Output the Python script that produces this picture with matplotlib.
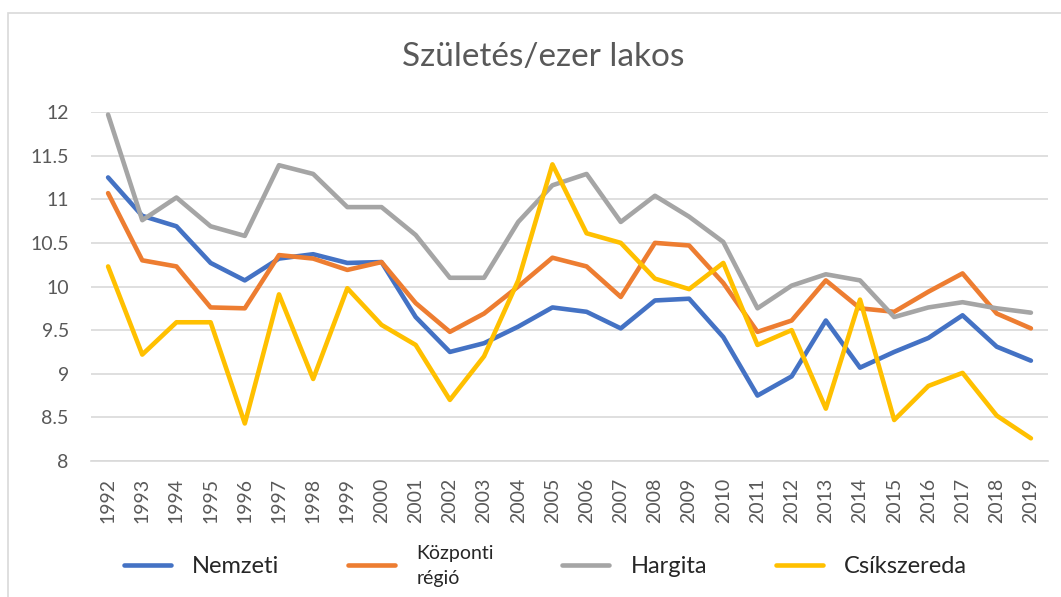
import matplotlib
matplotlib.use("Agg")
import matplotlib.pyplot as plt
from matplotlib.patches import Rectangle

plt.rcParams['font.family'] = ['Lato', 'DejaVu Sans']

years = [str(y) for y in range(1992, 2020)]

nemzeti = [11.25, 10.81, 10.69, 10.27, 10.07, 10.32, 10.37, 10.27, 10.28, 9.65,
           9.25, 9.35, 9.54, 9.76, 9.71, 9.52, 9.84, 9.86, 9.42, 8.75,
           8.97, 9.61, 9.07, 9.25, 9.41, 9.67, 9.31, 9.15]
kozponti = [11.07, 10.30, 10.23, 9.76, 9.75, 10.36, 10.32, 10.19, 10.28, 9.81,
            9.48, 9.69, 10.00, 10.33, 10.23, 9.88, 10.50, 10.47, 10.04, 9.48,
            9.61, 10.07, 9.75, 9.71, 9.94, 10.15, 9.69, 9.52]
hargita = [11.97, 10.76, 11.02, 10.69, 10.58, 11.39, 11.29, 10.91, 10.91, 10.59,
           10.10, 10.10, 10.74, 11.16, 11.29, 10.74, 11.04, 10.80, 10.51, 9.75,
           10.01, 10.14, 10.07, 9.65, 9.76, 9.82, 9.75, 9.70]
csikszereda = [10.23, 9.22, 9.59, 9.59, 8.43, 9.91, 8.94, 9.98, 9.56, 9.33,
               8.70, 9.20, 10.07, 11.40, 10.61, 10.50, 10.09, 9.97, 10.27, 9.33,
               9.50, 8.60, 9.85, 8.47, 8.86, 9.01, 8.52, 8.26]

series = [
    ("Nemzeti", nemzeti, "#4472C4"),
    ("Központi\nrégió", kozponti, "#ED7D31"),
    ("Hargita", hargita, "#A5A5A5"),
    ("Csíkszereda", csikszereda, "#FFC000"),
]

W, H = 1061, 597
fig = plt.figure(figsize=(W / 100, H / 100), dpi=100)
ax = fig.add_axes([91 / W, 1 - 461 / H, (1048 - 91) / W, (461 - 112) / H])

x = list(range(len(years)))
for name, vals, col in series:
    ax.plot(x, vals, color=col, lw=3.3, label=name,
            solid_capstyle='round', solid_joinstyle='round', clip_on=False)

ax.set_xlim(-0.5, len(years) - 0.5)
ax.set_ylim(8, 12)
ax.set_yticks([8, 8.5, 9, 9.5, 10, 10.5, 11, 11.5, 12])
ax.set_yticklabels(['8', '8.5', '9', '9.5', '10', '10.5', '11', '11.5', '12'])
ax.set_xticks(x)
ax.set_xticklabels(years, rotation=90)
ax.grid(axis='y', color='#D9D9D9', lw=1.2)
ax.set_axisbelow(True)
for s in ax.spines.values():
    s.set_visible(False)
ax.spines['bottom'].set_visible(True)
ax.spines['bottom'].set_color('#D9D9D9')
ax.spines['bottom'].set_linewidth(1.2)
ax.tick_params(axis='both', length=0, colors='#595959', labelsize=14)
ax.tick_params(axis='y', pad=16)
ax.tick_params(axis='x', pad=12)

fig.text(0.512, 1 - 57 / H, "Születés/ezer lakos", ha='center', va='center',
         fontsize=24, color='#595959')

leg = fig.legend(loc='center', bbox_to_anchor=(0.514, 1 - 566 / H), ncol=4,
                 frameon=False, fontsize=17, handlelength=2.0,
                 handletextpad=0.9, columnspacing=2.9)
for t in leg.get_texts():
    t.set_color('#262626')
leg.get_texts()[1].set_fontsize(14)
leg.get_texts()[1].set_linespacing(1.55)

# chart border (cut off at right and bottom in the reference)
fig.patches.append(Rectangle((8 / W, -0.1), 1.2, 1 - 13 / H + 0.1,
                             transform=fig.transFigure, fill=False,
                             edgecolor='#D9D9D9', lw=1.2))

fig.savefig("out.png", dpi=100)
